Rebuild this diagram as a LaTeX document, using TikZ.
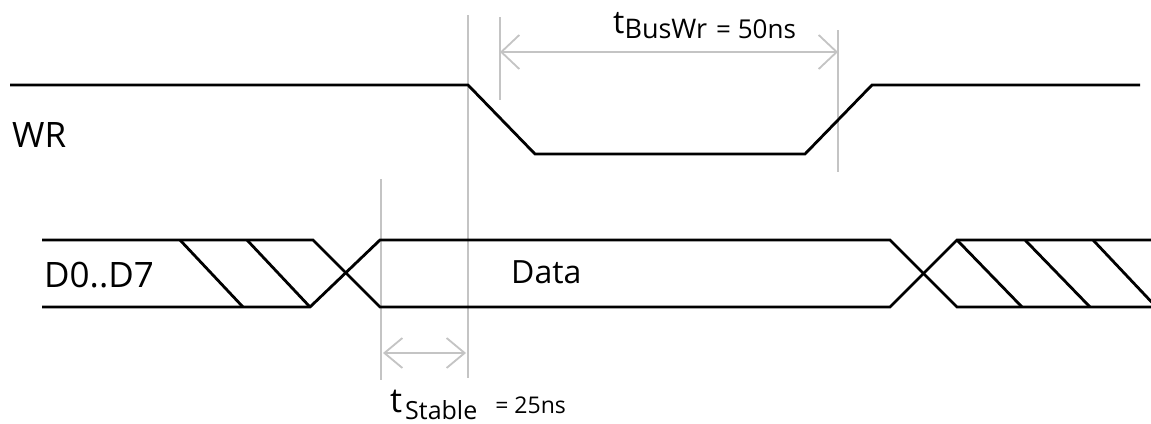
\documentclass[tikz,border=0pt]{standalone}
\usepackage{fontspec}
\setmainfont{Open Sans}
\usetikzlibrary{arrows.meta}
\definecolor{gline}{RGB}{196,196,196}
\newcommand\fsz[1]{\fontsize{#1}{#1}\selectfont}
\begin{document}
\begin{tikzpicture}[x=1pt,y=-1pt,
  sig/.style={line width=2.8pt,black,line join=miter},
  guide/.style={line width=2pt,gline},
  dim/.style={line width=1.8pt,gline,{Straight Barb[length=18pt,width=34pt,line width=1.8pt]}-{Straight Barb[length=18pt,width=34pt,line width=1.8pt]}},
  lbl/.style={inner sep=0pt,anchor=base west}]
\useasboundingbox[fill=white] (0,0) rectangle (1151,423);
% guide lines
\coordinate (g1t) at (468,15);  \coordinate (g1b) at (468,378);
\coordinate (g2t) at (500,17);  \coordinate (g2b) at (500,100);
\coordinate (g3t) at (838,30);  \coordinate (g3b) at (838,172);
\coordinate (g4t) at (381,179); \coordinate (g4b) at (381,380);
\draw[guide] (g1t) -- (g1b);
\draw[guide] (g2t) -- (g2b);
\draw[guide] (g3t) -- (g3b);
\draw[guide] (g4t) -- (g4b);
% dimension arrows
\coordinate (bw1) at (500,52); \coordinate (bw2) at (838,52);
\coordinate (st1) at (383,353); \coordinate (st2) at (466,353);
\draw[dim] (bw1) -- (bw2);
\draw[dim,{Straight Barb[length=18pt,width=30pt,line width=1.8pt]}-{Straight Barb[length=18pt,width=30pt,line width=1.8pt]}] (st1) -- (st2);
% WR signal
\draw[sig] (10,85) -- (468,85) -- (535,154) -- (805,154) -- (872,85) -- (1140,85);
% data bus
\draw[sig] (42,240) -- (313,240) -- (380,307) -- (890,307) -- (957,240) -- (1151,240);
\draw[sig] (42,307) -- (310,307) -- (380,240) -- (890,240) -- (957,307) -- (1151,307);
\draw[sig] (180,240) -- (243,307);
\draw[sig] (247,240) -- (310,307);
\draw[sig] (957,240) -- (1022,307);
\draw[sig] (1025,240) -- (1090,307);
\draw[sig] (1093,240) -- (1160,311);
% labels
\node[lbl] (wr) at (12,147) {\fsz{35}WR};
\node[lbl] (dbus) at (44,287) {\fsz{35}D0..D7};
\node[lbl] (data) at (511,283) {\fsz{32}Data};
\node[lbl] (tbus) at (613,38) {\raisebox{5pt}{\fsz{32}t}\fsz{27}BusWr\hspace{9pt}\fsz{26}= 50ns};
\node[lbl] (tstab) at (390,419) {\raisebox{7pt}{\fsz{34}t}\hspace{3pt}\fsz{25}Stable\hspace{18pt}\raisebox{6pt}{\fsz{23}= 25ns}};
\end{tikzpicture}
\end{document}
